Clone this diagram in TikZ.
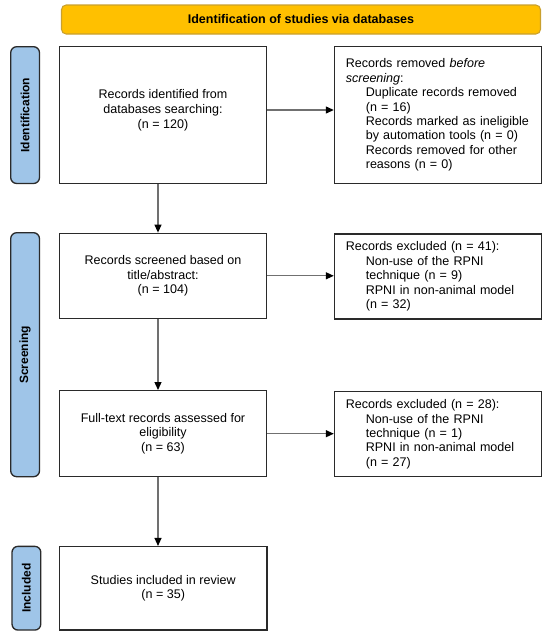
\documentclass[tikz,border=0pt]{standalone}
\usepackage{fontspec}
\usepackage{graphicx}
\setmainfont{Liberation Sans}
\usetikzlibrary{arrows.meta}
\definecolor{hdrfill}{HTML}{FFC000}
\definecolor{hdrdraw}{HTML}{C9A02E}
\definecolor{barfill}{HTML}{9FC5E8}
\definecolor{edgecol}{HTML}{2A2A2A}
\definecolor{arrgray}{HTML}{707070}
\tikzset{
  mainbox/.style={draw=edgecol, line width=1pt, rectangle, minimum width=155.6pt,
    align=center, inner sep=2pt, font=\fontsize{9.4pt}{11pt}\selectfont},
  sidebox/.style={draw=edgecol, line width=1pt, rectangle, minimum width=155.4pt,
    text width=138.4pt, inner xsep=8.5pt, align=left, font=\fontsize{9.4pt}{10.8pt}\selectfont},
  hdr/.style={draw=hdrdraw, line width=0.8pt, fill=hdrfill, rounded corners=3.5pt,
    minimum width=359.25pt, minimum height=21.75pt, font=\bfseries\fontsize{9.4pt}{11pt}\selectfont},
  phase/.style={draw=edgecol, line width=1pt, fill=barfill, rounded corners=4.5pt,
    minimum width=21.6pt, inner sep=0pt, font=\bfseries\fontsize{9pt}{11pt}\selectfont},
  arr/.style={draw=arrgray, line width=1pt, -{Triangle[length=6pt,width=5.2pt,color=black]}}
}
\newcommand{\ind}{\hspace*{15pt}}
\begin{document}
\begin{tikzpicture}[x=0.75pt,y=-0.75pt]
\useasboundingbox (0,0) rectangle (550,637);
\node[hdr] (hd) at (301,19.5) {Identification of studies via databases};
\node[phase, minimum height=102.6pt] (p1) at (25.1,115.1) {\rotatebox{90}{Identification}};
\node[phase, minimum height=183pt] (p2) at (25.1,354.7) {\rotatebox{90}{Screening}};
\node[phase, minimum height=62.8pt] (p3) at (26.4,588.2) {\rotatebox{90}{Included}};

\node[mainbox, minimum height=102.5pt] (b1) at (163,115)
  {Records identified from\\databases searching:\\(n = 120)\\[-2pt]\mbox{}};
\node[sidebox, minimum height=102.5pt] (b2) at (438.1,115)
  {Records removed \textit{before}\\\textit{screening}:\\
   \ind Duplicate records removed\\\ind (n = 16)\\
   \ind Records marked as ineligible\\\ind by automation tools (n = 0)\\
   \ind Records removed for other\\\ind reasons (n = 0)};
\node[mainbox, minimum height=63.75pt] (b3) at (163,275.8)
  {Records screened based on\\title/abstract:\\(n = 104)};
\node[sidebox, minimum height=63.75pt] (b4) at (438.1,276.5)
  {Records excluded (n = 41):\\\ind Non-use of the RPNI\\\ind technique (n = 9)\\
   \ind RPNI in non-animal model\\\ind (n = 32)};
\node[mainbox, minimum height=64.5pt] (b5) at (163,433.7)
  {Full-text records assessed for\\eligibility\\(n = 63)};
\node[sidebox, minimum height=63.75pt] (b6) at (438.1,434.2)
  {Records excluded (n = 28):\\\ind Non-use of the RPNI\\\ind technique (n = 1)\\
   \ind RPNI in non-animal model\\\ind (n = 27)};
\node[mainbox, minimum height=62.5pt] (b7) at (163.2,588.3)
  {Studies included in review\\(n = 35)};

\draw[arr] ([yshift=3.75pt]b1.east) -- ([yshift=3.75pt]b1.east -| b2.west);
\draw[arr] (b3.east) -- (b3.east -| b4.west);
\draw[arr] (b5.east) -- (b5.east -| b6.west);
\draw[arr] ([xshift=-3.75pt]b1.south) -- ([xshift=-3.75pt]b1.south |- b3.north);
\draw[arr] ([xshift=-3.75pt]b3.south) -- ([xshift=-3.75pt]b3.south |- b5.north);
\draw[arr] ([xshift=-3.75pt]b5.south) -- ([xshift=-3.75pt]b5.south |- b7.north);
\end{tikzpicture}
\end{document}
